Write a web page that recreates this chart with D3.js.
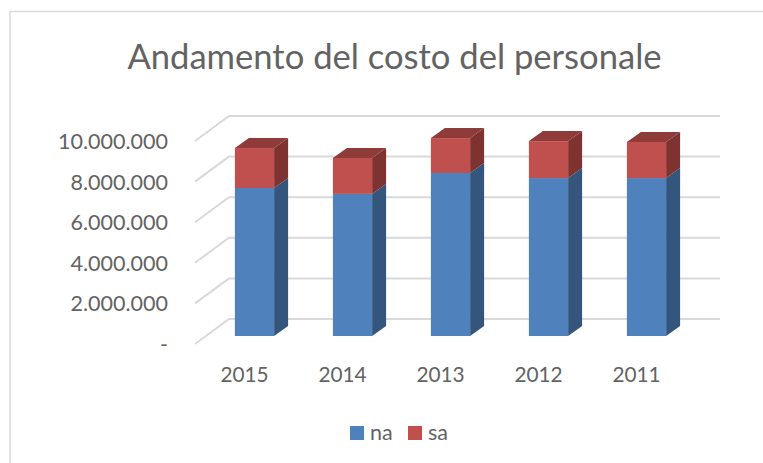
<!DOCTYPE html>
<html><head><meta charset="utf-8">
<script src="https://cdn.jsdelivr.net/npm/d3@7/dist/d3.min.js"></script>
<style>html,body{margin:0;padding:0;background:#fff}svg{display:block}text{font-family:Lato,sans-serif}</style>
</head><body><svg id="c" width="763" height="463"></svg>
<script>
const categories=["2015","2014","2013","2012","2011"];
const seriesNames=["na","sa"];
const na=[7290000,7000000,8030000,7780000,7780000];
const sa=[1970000,1770000,1720000,1820000,1780000];
const yTicks=[0,2000000,4000000,6000000,8000000,10000000];
const yLabels=["-","2.000.000","4.000.000","6.000.000","8.000.000","10.000.000"];
const colors={na:"#4f81bd",sa:"#c0504d"};
const sideColors={na:"#34557c",sa:"#7e3331"};
const topColor="#8e3b39";
const textColor="#636363";

const svg=d3.select("#c");
svg.append("path").attr("d","M10,463V11.5H763").attr("fill","none").attr("stroke","#d9d9d9").attr("stroke-width",1.5);

const y=d3.scaleLinear().domain([0,10000000]).range([336,133]);
const x=d3.scaleBand().domain(categories).range([205.5,695.5]).paddingInner(0.6).paddingOuter(0.3);
const dx=14,dy=10;
const backDx=34,backDy=-25;
const g=svg.append("g");
yTicks.forEach(t=>{
  const fy=y(t)+8;
  g.append("path").attr("d",`M195,${fy}L${195+backDx},${fy+backDy}L720,${fy+backDy}`)
   .attr("fill","none").attr("stroke","#d9d9d9").attr("stroke-width",2);
});
yTicks.forEach((t,i)=>{
  svg.append("text").attr("x",168).attr("y",y(t)+16).attr("text-anchor","end")
    .attr("font-size",21.5).attr("fill",textColor).text(yLabels[i]);
});
categories.forEach((c,i)=>{
  const bx=x(c),bw=x.bandwidth();
  const y0=y(0),y1=y(na[i]),y2=y(na[i]+sa[i]);
  const b=g.append("g");
  b.append("path").attr("d",`M${bx+bw},${y0}L${bx+bw+dx},${y0-dy}L${bx+bw+dx},${y1-dy}L${bx+bw},${y1}Z`).attr("fill",sideColors.na);
  b.append("path").attr("d",`M${bx+bw},${y1}L${bx+bw+dx},${y1-dy}L${bx+bw+dx},${y2-dy}L${bx+bw},${y2}Z`).attr("fill",sideColors.sa);
  b.append("path").attr("d",`M${bx},${y2}L${bx+dx},${y2-dy}L${bx+bw+dx},${y2-dy}L${bx+bw},${y2}Z`).attr("fill",topColor);
  b.append("rect").attr("x",bx).attr("y",y1).attr("width",bw).attr("height",y0-y1).attr("fill",colors.na);
  b.append("rect").attr("x",bx).attr("y",y2).attr("width",bw).attr("height",y1-y2).attr("fill",colors.sa);
  svg.append("text").attr("x",bx+bw/2-10).attr("y",382).attr("text-anchor","middle")
    .attr("font-size",20.8).attr("fill",textColor).text(c);
});
svg.append("text").attr("x",394.5).attr("y",69).attr("text-anchor","middle").attr("font-size",34.6).attr("fill",textColor).text("Andamento del costo del personale");
const lx=[350,408];
seriesNames.forEach((s,i)=>{
  svg.append("rect").attr("x",lx[i]).attr("y",426).attr("width",14).attr("height",14).attr("fill",colors[s]);
  svg.append("text").attr("x",lx[i]+20).attr("y",440).attr("font-size",21.5).attr("fill",textColor).text(s);
});
</script></body></html>
